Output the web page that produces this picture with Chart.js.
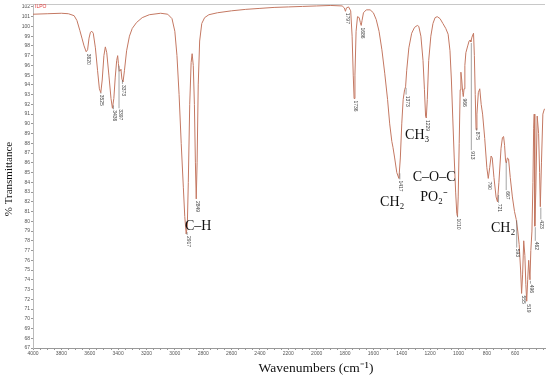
<!DOCTYPE html>
<html lang="en">
<head>
  <meta charset="UTF-8">
  <title>ILPO IR spectrum</title>
  <script src="https://cdn.jsdelivr.net/npm/chart.js"></script>
  <style>
    body { margin: 0; background: #fff; }
    .container { width: 550px; height: 379px; position: relative; }
  </style>
</head>
<body>
  <div class="container">
    <canvas id="irChart"></canvas>
  </div>

  <script>
    // spectrum: wavenumber (cm-1) and %T
    const wavenumbers = [
      4000, 3900, 3800, 3750, 3710, 3690, 3670, 3655, 3640, 3625, 3615, 3605, 3595, 3585, 3575,
      3560, 3545, 3532, 3522, 3512, 3500, 3490, 3480, 3465, 3450, 3440, 3430, 3420, 3410, 3403,
      3398, 3392, 3386, 3380, 3373, 3365, 3355, 3340, 3320, 3300, 3270, 3230, 3180, 3100, 3050,
      3020, 3000, 2985, 2970, 2955, 2940, 2930, 2920, 2912, 2905, 2895, 2885, 2878, 2870, 2862,
      2855, 2849, 2843, 2835, 2825, 2810, 2790, 2760, 2700, 2600, 2500, 2400, 2300, 2200, 2100,
      2000, 1900, 1820, 1805, 1797, 1790, 1775, 1760, 1750, 1742, 1736, 1730, 1722, 1712, 1700,
      1692, 1686, 1680, 1670, 1650, 1623, 1600, 1580, 1560, 1540, 1520, 1500, 1485, 1470, 1462,
      1450, 1435, 1420, 1410, 1400, 1390, 1380, 1373, 1365, 1350, 1330, 1310, 1290, 1280, 1265,
      1250, 1240, 1232, 1227, 1220, 1210, 1195, 1180, 1165, 1150, 1130, 1110, 1090, 1073, 1060,
      1050, 1040, 1030, 1020, 1012, 1007, 1002, 995, 988, 983, 977, 970, 966, 961, 955,
      948, 935, 925, 918, 913, 905, 894, 888, 882, 876, 870, 860, 850, 840, 830,
      815, 800, 790, 780, 770, 762, 750, 735, 725, 715, 700, 690, 682, 675, 668,
      663, 655, 647, 635, 620, 605, 593, 582, 572, 562, 555, 548, 540, 532, 525,
      519, 512, 505, 496, 490, 482, 475, 470, 466, 462, 455, 445, 435, 428, 423,
      415, 405, 395, 390
    ];
    const transmittance = [
      101.25, 101.3, 101.35, 101.3, 101.1, 100.6, 99.6, 98.8, 98.0, 97.4, 97.6, 98.8, 99.4, 99.5, 99.3,
      97.8, 95.5, 93.6, 93.2, 94.5, 97.0, 97.9, 97.3, 95.0, 92.6, 91.6, 92.6, 94.8, 96.5, 97.0,
      96.2, 95.4, 95.5, 95.6, 94.6, 94.3, 95.5, 97.5, 99.0, 99.8, 100.4, 100.9, 101.2, 101.35, 101.25,
      100.8, 99.5, 97.0, 93.0, 88.0, 83.5, 80.5, 78.7, 79.5, 84.0, 92.0, 96.3, 97.2, 96.0, 92.0,
      86.0, 82.3, 86.0, 94.0, 98.5, 100.3, 100.9, 101.2, 101.4, 101.6, 101.75, 101.85, 101.95, 102.0, 102.05,
      102.1, 102.15, 102.1, 101.9, 101.55, 101.9, 102.0, 101.6, 99.0, 95.0, 92.6, 95.0, 99.5, 101.0, 100.9,
      100.4, 100.1, 100.6, 101.4, 101.7, 101.7, 101.4, 100.7, 99.5, 97.6, 95.2, 92.5, 90.0, 88.2, 87.6,
      86.5, 85.0, 84.4, 86.5, 90.0, 92.5, 93.5, 93.8, 95.5, 97.8, 99.3, 99.9, 100.1, 100.0, 99.0,
      96.5, 93.5, 90.8, 90.6, 92.5, 96.5, 99.0, 100.3, 100.9, 101.0, 100.8, 100.3, 99.8, 99.2, 97.5,
      94.5, 90.5, 86.5, 83.0, 80.8, 80.5, 82.5, 88.0, 93.5, 95.3, 94.5, 93.2, 92.8, 93.6, 96.0,
      97.3, 98.0, 98.5, 98.6, 98.4, 98.9, 99.3, 97.0, 93.0, 89.4, 91.0, 93.2, 93.6, 92.0, 91.0,
      88.5, 85.5, 84.4, 85.5, 86.7, 86.5, 84.5, 82.5, 82.0, 84.0, 87.5, 88.6, 88.7, 87.8, 86.2,
      86.0, 86.5, 86.4, 84.5, 82.5, 81.0, 80.2, 79.0, 77.6, 75.0, 72.6, 74.5, 78.0, 76.5, 73.5,
      71.8, 74.0, 76.0, 74.0, 77.0, 79.0, 84.0, 89.5, 91.0, 79.5, 83.0, 90.8, 89.0, 85.0, 81.5,
      86.0, 91.0, 91.5, 91.5
    ];

    // peak labels: position, text, %T where the drop line ends
    const peakWn = [3620, 3525, 3436, 3397, 3373, 2917, 2849, 1797, 1736, 1686, 1417, 1373, 1229,
                    1010, 966, 913, 875, 790, 721, 667, 593, 555, 519, 496, 462, 423];
    const peakText = ['3620', '3525', '3436', '3397', '3373', '2917', '2849', '1797', '1736', '1686',
                      '1417', '1373', '1229', '1010', '966', '913', '875', '790', '721', '667',
                      '593', '555', '519', '496', '462', '423'];
    const peakTo = [97.3, 93.1, 91.5, 91.6, 94.1, 78.6, 82.2, 101.5, 92.5, 100.0, 84.3, 93.0, 90.5,
                    80.4, 92.7, 87.3, 89.3, 84.2, 81.9, 83.2, 77.3, 72.5, 71.6, 73.6, 78.0, 80.2];

    // band assignments: text, wavenumber, %T
    const bandText = ['C–H', 'CH₃', 'CH₂', 'C–O–C', 'PO₂⁻', 'CH₂'];
    const bandWn = [2835, 1291, 1467, 1172, 1172, 685];
    const bandT = [79.5, 88.85, 81.9, 84.55, 82.5, 79.3];

    Chart.defaults.font.family = '"Liberation Sans", Arial, sans-serif';

    function curveAt(w) {
      for (let i = 0; i < wavenumbers.length - 1; i++) {
        const a = wavenumbers[i], b = wavenumbers[i + 1];
        if (w <= a && w >= b) {
          const t = (a - w) / (a - b);
          return transmittance[i] + t * (transmittance[i + 1] - transmittance[i]);
        }
      }
      return transmittance[transmittance.length - 1];
    }

    const decorations = {
      id: 'decorations',
      afterDatasetsDraw(chart) {
        const ctx = chart.ctx;
        const xs = chart.scales.x, ys = chart.scales.y;
        const area = chart.chartArea;
        ctx.save();

        // top frame line
        ctx.strokeStyle = '#c8c8c8';
        ctx.lineWidth = 1;
        ctx.beginPath();
        ctx.moveTo(area.left - 8, area.top + 0.5);
        ctx.lineTo(area.right, area.top + 0.5);
        ctx.stroke();

        // legend tag
        ctx.fillStyle = '#e03a3a';
        ctx.font = '5px "Liberation Sans", Arial';
        ctx.textBaseline = 'middle';
        ctx.fillText('ILPO', area.left + 2, area.top + 3);

        // peak labels
        ctx.strokeStyle = '#666';
        ctx.lineWidth = 0.6;
        ctx.fillStyle = '#444';
        ctx.font = '5px "Liberation Sans", Arial';
        peakWn.forEach((w, i) => {
          const x = xs.getPixelForValue(w);
          const yc = ys.getPixelForValue(curveAt(w));
          const ye = ys.getPixelForValue(peakTo[i]);
          if (ye > yc + 2) {
            ctx.beginPath();
            ctx.moveTo(x + 0.5, yc + 1);
            ctx.lineTo(x + 0.5, ye);
            ctx.stroke();
          }
          ctx.save();
          ctx.translate(x + 1.5, Math.max(ye, yc) + 1);
          ctx.rotate(Math.PI / 2);
          ctx.textAlign = 'left';
          ctx.textBaseline = 'middle';
          ctx.fillText(peakText[i], 0, 0);
          ctx.restore();
        });

        // band assignments
        ctx.fillStyle = '#111';
        ctx.font = '14px "Liberation Serif", "Times New Roman", serif';
        ctx.textAlign = 'center';
        ctx.textBaseline = 'middle';
        bandText.forEach((t, i) => {
          ctx.fillText(t, xs.getPixelForValue(bandWn[i]), ys.getPixelForValue(bandT[i]));
        });

        // axis titles
        ctx.font = '13.5px "Liberation Serif", "Times New Roman", serif';
        ctx.fillText('Wavenumbers (cm⁻¹)', 316, 368);
        ctx.save();
        ctx.translate(9, 179);
        ctx.rotate(-Math.PI / 2);
        ctx.font = '11px "Liberation Serif", "Times New Roman", serif';
        ctx.fillText('% Transmittance', 0, 0);
        ctx.restore();

        ctx.restore();
      }
    };

    const ctx = document.getElementById('irChart').getContext('2d');
    new Chart(ctx, {
      type: 'line',
      data: {
        datasets: [{
          label: 'ILPO',
          data: wavenumbers.map((w, i) => ({ x: w, y: transmittance[i] })),
          borderColor: '#c47862',
          borderWidth: 1,
          pointRadius: 0,
          tension: 0,
          fill: false
        }]
      },
      options: {
        responsive: true,
        maintainAspectRatio: false,
        animation: false,
        layout: { padding: { left: 0, right: 5, top: 4, bottom: 0 } },
        plugins: {
          legend: { display: false },
          tooltip: { enabled: false }
        },
        scales: {
          x: {
            type: 'linear',
            reverse: true,
            min: 390,
            max: 4000,
            afterFit: s => { s.height = 31; },
            afterBuildTicks: s => { s.ticks = s.ticks.filter(t => t.value % 50 === 0); },
            grid: { drawOnChartArea: false, drawTicks: true, tickLength: 2, color: '#999' },
            border: { color: '#999' },
            ticks: {
              stepSize: 50,
              includeBounds: false,
              autoSkip: false,
              maxRotation: 0,
              padding: 1,
              color: '#555',
              font: { size: 5 },
              callback: v => (v % 200 === 0 && v >= 600) ? String(v) : ''
            }
          },
          y: {
            min: 67,
            max: 102.3,
            afterFit: s => { s.width = 33; },
            afterBuildTicks: s => {
              const ticks = [];
              for (let v = 67; v <= 102; v++) ticks.push({ value: v });
              s.ticks = ticks;
            },
            grid: { drawOnChartArea: false, drawTicks: true, tickLength: 2, color: '#999' },
            border: { color: '#bbb' },
            ticks: {
              stepSize: 1,
              includeBounds: false,
              autoSkip: false,
              padding: 1,
              color: '#555',
              font: { size: 5 }
            }
          }
        }
      },
      plugins: [decorations]
    });
  </script>
</body>
</html>
